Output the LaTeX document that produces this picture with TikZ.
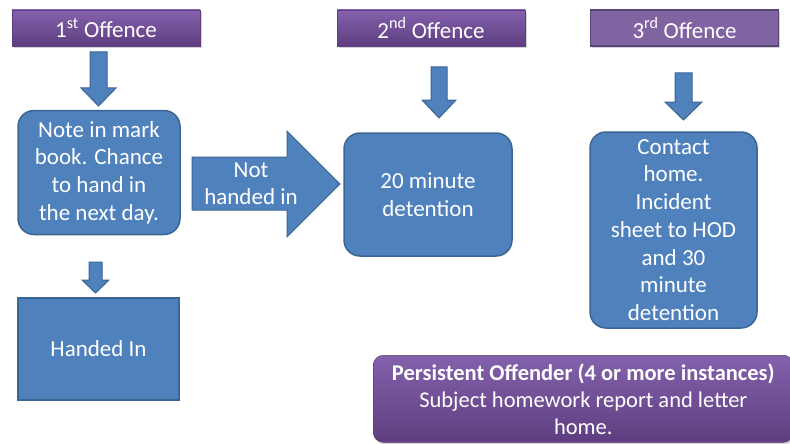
\documentclass[tikz,border=0pt]{standalone}
\usepackage{fontspec}
\setmainfont{Carlito}
\usetikzlibrary{shadows}
\definecolor{boxblue}{HTML}{4F81BD}
\definecolor{boxedge}{HTML}{3A6694}
\definecolor{purtop}{HTML}{8461AC}
\definecolor{purbot}{HTML}{5E3E80}
\definecolor{purflat}{HTML}{8064A2}
\definecolor{puredge}{HTML}{5B4578}
\tikzset{
  hdr/.style={minimum width=188pt, minimum height=36pt, inner sep=0pt, text=white,
    top color=purtop, bottom color=purbot, draw=purbot, line width=0.6pt,
    drop shadow={shadow xshift=1.5pt, shadow yshift=-2pt, opacity=0.35},
    font=\fontsize{23}{26}\selectfont},
  hdrflat/.style={hdr, fill=purflat, top color=purflat, bottom color=purflat, draw=puredge, line width=1.5pt},
  bbox/.style={fill=boxblue, draw=boxedge, line width=1.5pt, text=white, inner sep=2pt,
    align=center, font=\fontsize{23}{27.7}\selectfont},
  rbox/.style={bbox, rounded corners=16pt},
  barrow/.style={fill=boxblue, draw=boxedge, line width=1pt, line join=miter},
  persist/.style={rounded corners=10pt, top color=purtop, bottom color=purbot, draw=purbot,
    line width=0.6pt, text=white, align=center, inner sep=0pt,
    drop shadow={shadow xshift=1.5pt, shadow yshift=-2pt, opacity=0.35},
    font=\fontsize{22.5}{27}\selectfont}
}
\begin{document}
\begin{tikzpicture}[x=1pt,y=-1pt]
\useasboundingbox (0,0) rectangle (790,444);
% headers
\node[hdr] (h1) at (106,28) {1\textsuperscript{st} Offence};
\node[hdr] (h2) at (431,28) {2\textsuperscript{nd} Offence};
\node[hdrflat] (h3) at (684.5,28) {3\textsuperscript{rd} Offence};
% boxes
\node[rbox, minimum width=162pt, minimum height=124pt] (b1) at (99,172.5)
  {Note in mark\\book. Chance\\to hand in\\the next day.};
\node[rbox, minimum width=168pt, minimum height=123pt] (b2) at (428,194.5)
  {20 minute\\detention};
\node[rbox, minimum width=167pt, minimum height=196pt] (b3) at (673.5,230)
  {Contact\\home.\\Incident\\sheet to HOD\\and 30\\minute\\detention};
\node[bbox, minimum width=161pt, minimum height=102pt] (b4) at (98.5,349)
  {Handed In};
\node[persist, minimum width=420pt, minimum height=87pt, anchor=north west] (p) at (373,355)
  {\textbf{Persistent Offender (4 or more instances)}\\Subject homework report and letter\\home.};
% block arrows
\draw[barrow] (90,52) -- (107,52) -- (107,88) -- (116,88) -- (98.5,106) -- (81,88) -- (90,88) -- cycle;
\draw[barrow] (431,67) -- (447,67) -- (447,100) -- (456,100) -- (439,118) -- (422,100) -- (431,100) -- cycle;
\draw[barrow] (675,73) -- (692,73) -- (692,102) -- (702,102) -- (683.5,120) -- (665,102) -- (675,102) -- cycle;
\draw[barrow] (89,262) -- (102,262) -- (102,280) -- (109,280) -- (95.5,293) -- (82,280) -- (89,280) -- cycle;
\draw[barrow] (192,157) -- (287,157) -- (287,131) -- (340,184) -- (287,237) -- (287,210) -- (192,210) -- cycle;
\node[text=white, align=center, font=\fontsize{23}{27}\selectfont] (nh) at (251,183.5) {Not\\handed in};
\end{tikzpicture}
\end{document}
